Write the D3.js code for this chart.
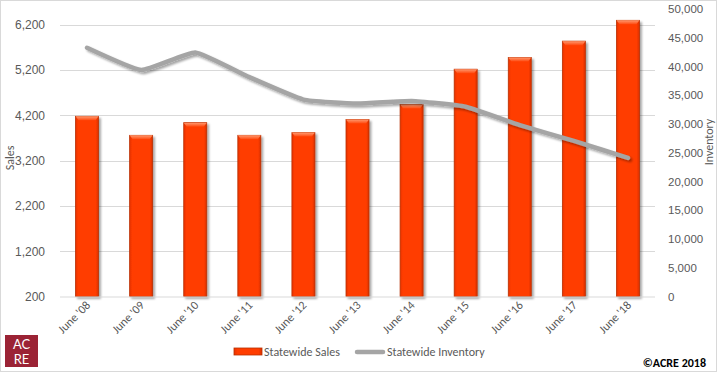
<!DOCTYPE html>
<html>
<head>
<meta charset="utf-8">
<script src="https://cdn.jsdelivr.net/npm/d3@7"></script>
<style>
  body { margin: 0; background: #fff; }
  svg { display: block; font-family: Carlito, Calibri, Lato, "Liberation Sans", sans-serif; }
</style>
</head>
<body>
<svg id="chart" width="717" height="372"></svg>
<script>
// data
var years = ["June '08", "June '09", "June '10", "June '11", "June '12", "June '13",
             "June '14", "June '15", "June '16", "June '17", "June '18"];
var sales = [4180, 3760, 4040, 3760, 3820, 4110, 4440, 5220, 5480, 5840, 6300];
var inventory = [43250, 39400, 42450, 38150, 34250, 33550, 34000, 33000, 29800, 27050, 24100];
var salesTicks = [200, 1200, 2200, 3200, 4200, 5200, 6200];
var invTicks = [0, 5000, 10000, 15000, 20000, 25000, 30000, 35000, 40000, 45000, 50000];

var svg = d3.select("#chart");
var plotLeft = 60, plotRight = 655, plotTop = 9, plotBottom = 296.5;

var defs = svg.append("defs");
var f = defs.append("filter").attr("id", "shadow")
    .attr("x", "-20%").attr("y", "-20%").attr("width", "160%").attr("height", "160%");
f.append("feDropShadow").attr("dx", 2).attr("dy", 2).attr("stdDeviation", 1.2)
    .attr("flood-color", "#000").attr("flood-opacity", 0.35);

var lg = defs.append("linearGradient").attr("id", "barfill")
    .attr("x1", 0).attr("x2", 1).attr("y1", 0).attr("y2", 0);
lg.append("stop").attr("offset", "0%").attr("stop-color", "#e83200");
lg.append("stop").attr("offset", "12%").attr("stop-color", "#ff3d00");
lg.append("stop").attr("offset", "88%").attr("stop-color", "#ff3d00");
lg.append("stop").attr("offset", "100%").attr("stop-color", "#d83000");

var bev = defs.append("linearGradient").attr("id", "bevel")
    .attr("x1", 0).attr("x2", 0).attr("y1", 0).attr("y2", 1);
bev.append("stop").attr("offset", "0%").attr("stop-color", "#ff9a70");
bev.append("stop").attr("offset", "100%").attr("stop-color", "#ff4a10");

// chart border
svg.append("rect").attr("x", 0.5).attr("y", 0.5).attr("width", 716).attr("height", 371)
    .attr("fill", "#fff").attr("stroke", "#d9d9d9");

var x = d3.scaleBand().domain(years).range([plotLeft, plotRight]).paddingInner(0.575).paddingOuter(0.2875);
var yS = d3.scaleLinear().domain([200, 6550]).range([plotBottom, plotTop]);
var yI = d3.scaleLinear().domain([0, 50000]).range([plotBottom, plotTop]);

// gridlines
svg.append("g").selectAll("line").data(salesTicks.slice(1)).join("line")
    .attr("x1", plotLeft).attr("x2", plotRight)
    .attr("y1", d => Math.round(yS(d)) + 0.5).attr("y2", d => Math.round(yS(d)) + 0.5)
    .attr("stroke", "#d9d9d9");

// left axis
var ax = svg.append("g").attr("transform", "translate(" + (plotLeft - 12) + ",0)")
    .call(d3.axisLeft(yS).tickValues(salesTicks).tickSize(0).tickFormat(d3.format(",")));
ax.select(".domain").remove();
ax.selectAll("text").attr("fill", "#595959").attr("font-size", 12);

// right axis
var ar = svg.append("g").attr("transform", "translate(" + (plotRight + 10) + ",0)")
    .call(d3.axisRight(yI).tickValues(invTicks).tickSize(0).tickFormat(d3.format(",")));
ar.select(".domain").remove();
ar.selectAll("text").attr("fill", "#595959").attr("font-size", 11.5);

// bars
var bars = svg.append("g").selectAll("g").data(years).join("g");
bars.append("rect")
    .attr("x", d => x(d)).attr("width", x.bandwidth())
    .attr("y", (d, i) => yS(sales[i])).attr("height", (d, i) => plotBottom - yS(sales[i]))
    .attr("fill", "url(#barfill)").attr("stroke", "#b83000").attr("stroke-width", 0.8)
    .attr("filter", "url(#shadow)");
bars.append("path")
    .attr("d", (d, i) => {
      var x0 = x(d), x1 = x0 + x.bandwidth(), y0 = yS(sales[i]);
      return "M" + x0 + "," + y0 + "L" + x1 + "," + y0 + "L" + (x1 - 3) + "," + (y0 + 4) +
             "L" + (x0 + 3) + "," + (y0 + 4) + "Z";
    })
    .attr("fill", "url(#bevel)");

// bottom axis line
svg.append("line").attr("x1", plotLeft).attr("x2", plotRight).attr("y1", plotBottom + 0.5).attr("y2", plotBottom + 0.5)
    .attr("stroke", "#d9d9d9");

// x labels
svg.append("g").selectAll("text").data(years).join("text")
    .attr("transform", d => "translate(" + (x(d) + x.bandwidth() / 2 + 4) + ",306) rotate(-45)")
    .attr("text-anchor", "end").attr("font-size", 12).attr("fill", "#595959")
    .text(d => d);

// inventory line
var line = d3.line()
    .x((d, i) => x(years[i]) + x.bandwidth() / 2)
    .y(d => yI(d))
    .curve(d3.curveCardinal.tension(0.6));
svg.append("path").datum(inventory).attr("d", line)
    .attr("fill", "none").attr("stroke", "#a5a5a5").attr("stroke-width", 4.5)
    .attr("stroke-linecap", "round").attr("filter", "url(#shadow)");

// axis titles
svg.append("text").attr("transform", "translate(14,158) rotate(-90)")
    .attr("text-anchor", "middle").attr("font-size", 12).attr("fill", "#595959").text("Sales");
svg.append("text").attr("transform", "translate(713,142) rotate(-90)")
    .attr("text-anchor", "middle").attr("font-size", 12).attr("fill", "#595959").text("Inventory");

// legend
var leg = svg.append("g");
leg.append("rect").attr("x", 234).attr("y", 348).attr("width", 28).attr("height", 7)
    .attr("fill", "url(#barfill)").attr("stroke", "#b83000").attr("stroke-width", 0.8);
leg.append("text").attr("x", 264).attr("y", 356).attr("font-size", 12).attr("fill", "#595959")
    .text("Statewide Sales");
leg.append("line").attr("x1", 357).attr("x2", 383).attr("y1", 352).attr("y2", 352)
    .attr("stroke", "#a5a5a5").attr("stroke-width", 4.5).attr("stroke-linecap", "round");
leg.append("text").attr("x", 387).attr("y", 356).attr("font-size", 12).attr("fill", "#595959")
    .text("Statewide Inventory");

// logo
var logo = svg.append("g");
logo.append("rect").attr("x", 5).attr("y", 335).attr("width", 33).attr("height", 32).attr("fill", "#9b2335");
logo.append("text").attr("x", 21.5).attr("y", 349).attr("text-anchor", "middle")
    .attr("font-size", 13).attr("fill", "#fff").attr("font-family", "Lato, sans-serif").text("AC");
logo.append("text").attr("x", 21.5).attr("y", 364).attr("text-anchor", "middle")
    .attr("font-size", 13).attr("fill", "#fff").attr("font-family", "Lato, sans-serif").text("RE");

// copyright
svg.append("text").attr("x", 706).attr("y", 367).attr("text-anchor", "end")
    .attr("font-size", 12).attr("font-weight", "bold").attr("fill", "#000").text("©ACRE 2018");
</script>
</body>
</html>
